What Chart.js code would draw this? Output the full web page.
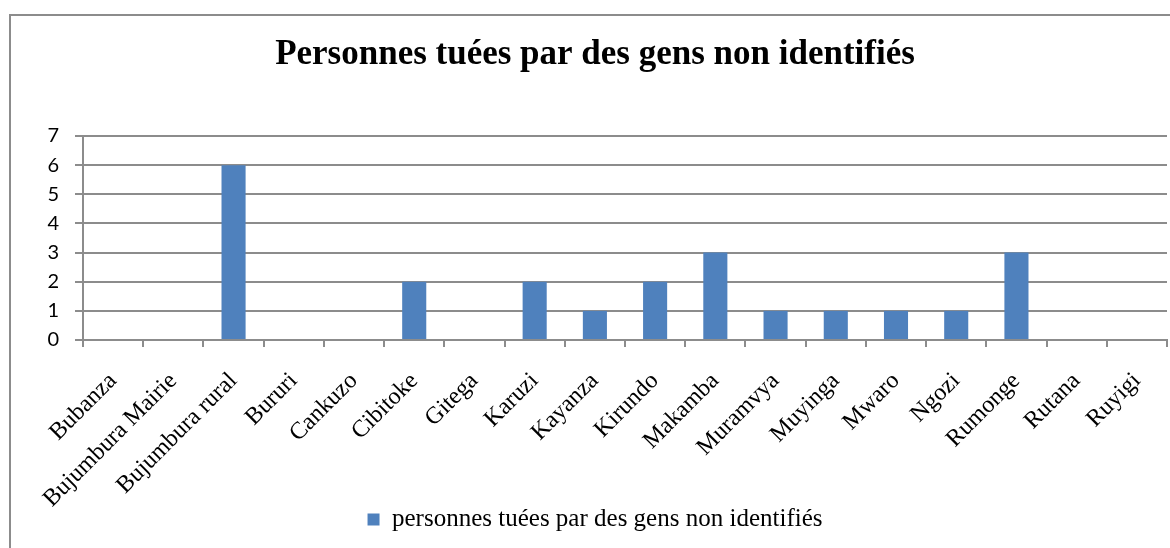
<!DOCTYPE html>
<html lang="fr">
<head>
<meta charset="UTF-8">
<title>Personnes tuées par des gens non identifiés</title>
<script src="https://cdn.jsdelivr.net/npm/chart.js"></script>
<style>
    body { margin: 0; background: #fff; }
    .frame {
        position: absolute; left: 9px; top: 14px;
        width: 1200px; height: 600px;
        border: 2px solid #8c8c8c;
    }
    .container {
        position: absolute; left: 0; top: 0;
        width: 1170px; height: 548px;
    }
</style>
</head>
<body>
<div class="frame"></div>
<div class="container">
    <canvas id="myChart"></canvas>
</div>
<script>
    const provinces = ['Bubanza', 'Bujumbura Mairie', 'Bujumbura rural', 'Bururi', 'Cankuzo', 'Cibitoke',
        'Gitega', 'Karuzi', 'Kayanza', 'Kirundo', 'Makamba', 'Muramvya', 'Muyinga', 'Mwaro', 'Ngozi',
        'Rumonge', 'Rutana', 'Ruyigi'];
    const tues = [0, 0, 6, 0, 0, 2, 0, 2, 1, 2, 3, 1, 1, 1, 1, 3, 0, 0];
    const seriesLabel = 'personnes tuées par des gens non identifiés';
    const titleText = 'Personnes tuées par des gens non identifiés';

    const gray = '#8c8c8c';
    const serif = "'Liberation Serif', 'Times New Roman', serif";

    Chart.defaults.font.family = serif;
    Chart.defaults.color = '#000';

    // rotated x labels hang below the axis box, don't let them get clipped
    const noLabelClip = {
        id: 'noLabelClip',
        afterLayout(chart) {
            chart.scales.x.bottom = chart.height;
        }
    };

    const ctx = document.getElementById('myChart').getContext('2d');
    const myChart = new Chart(ctx, {
        type: 'bar',
        data: {
            labels: provinces,
            datasets: [{
                label: seriesLabel,
                data: tues,
                backgroundColor: '#4f81bd',
                barPercentage: 0.4,
                categoryPercentage: 1
            }]
        },
        plugins: [noLabelClip],
        options: {
            responsive: true,
            maintainAspectRatio: false,
            animation: false,
            layout: { padding: { left: 23, right: 3, top: 0, bottom: 6 } },
            plugins: {
                title: {
                    display: true,
                    text: titleText,
                    color: '#000',
                    font: { family: serif, size: 35, weight: 'bold' },
                    padding: { top: 34, bottom: 60 }
                },
                legend: {
                    position: 'bottom',
                    labels: {
                        color: '#000',
                        font: { family: serif, size: 25 },
                        boxWidth: 12,
                        boxHeight: 12,
                        padding: 10
                    }
                },
                tooltip: { enabled: false }
            },
            scales: {
                x: {
                    grid: {
                        offset: true,
                        drawOnChartArea: false,
                        color: gray,
                        lineWidth: 2,
                        tickLength: 7
                    },
                    border: { color: gray, width: 2 },
                    ticks: {
                        autoSkip: false,
                        minRotation: 45,
                        maxRotation: 45,
                        padding: 20,
                        color: '#000',
                        font: { family: serif, size: 24 }
                    },
                    afterFit: (scale) => {
                        scale.height = 157;
                        scale.paddingLeft = 0;
                        scale.paddingRight = 0;
                    }
                },
                y: {
                    min: 0,
                    max: 7,
                    grid: { color: gray, lineWidth: 2, tickLength: 8 },
                    border: { color: gray, width: 2 },
                    ticks: {
                        stepSize: 1,
                        padding: 16,
                        color: '#000',
                        font: { family: "Lato, 'Liberation Sans', sans-serif", size: 20 }
                    },
                    afterFit: (scale) => { scale.width = 60; }
                }
            }
        }
    });
</script>
</body>
</html>
